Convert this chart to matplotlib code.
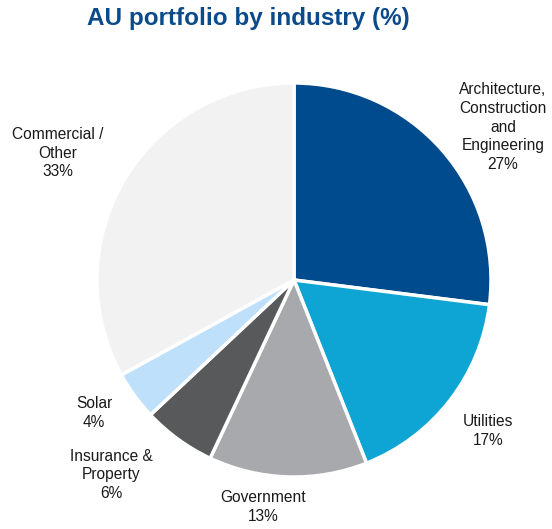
import matplotlib
matplotlib.use("Agg")
import matplotlib.pyplot as plt

# data
industries = ["Architecture,\nConstruction\nand\nEngineering", "Utilities", "Government",
              "Insurance &\nProperty", "Solar", "Commercial /\nOther"]
shares = [27, 17, 13, 6, 4, 33]
colors = ["#004b8d", "#0ea5d5", "#a7a9ac", "#58595b", "#bfe0fb", "#f2f2f2"]

# label centres in pixel space (x, y from top)
label_pos = [(503, 127), (488, 431), (263, 507), (111, 475), (94, 413), (58, 153)]

W, H = 552, 529
fig = plt.figure(figsize=(W / 100, H / 100), dpi=100)
ax = fig.add_axes([0, 0, 1, 1])

ax.pie(shares, colors=colors, startangle=90, counterclock=False,
       center=(294, H - 280), radius=197,
       wedgeprops=dict(edgecolor="white", linewidth=2.5))

ax.set_xlim(0, W)
ax.set_ylim(0, H)
ax.set_aspect("equal")
ax.axis("off")

for name, val, (x, y) in zip(industries, shares, label_pos):
    ax.text(x, H - y, f"{name}\n{val}%", ha="center", va="center",
            fontsize=11.2, family="Liberation Sans", color="#1a1a1a", linespacing=1.3)

ax.text(248, H - 19, "AU portfolio by industry (%)", ha="center", va="center",
        fontsize=17.5, fontweight="bold", family="Liberation Sans", color="#0b4a8b")

fig.savefig("out.png", dpi=100)
